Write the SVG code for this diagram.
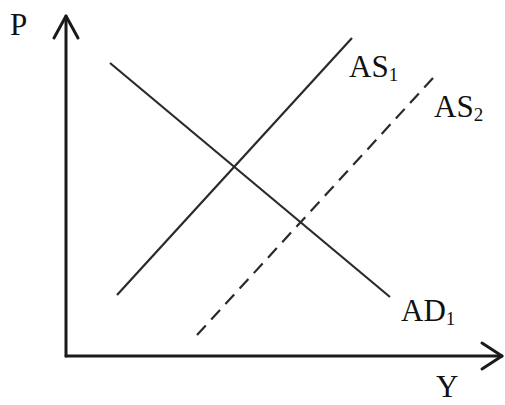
<svg xmlns="http://www.w3.org/2000/svg" width="505" height="405" viewBox="0 0 505 405">
<style>
.ax{stroke:#1a1a1a;stroke-width:3;fill:none;stroke-linecap:round;stroke-linejoin:round}
.cv{stroke:#2a2a2a;stroke-width:2.2;fill:none}
.dash{stroke-dasharray:13 8}
text{font-family:"Liberation Serif","Times New Roman",serif;fill:#111}
.lb{font-size:31px}
.sb{font-size:19px}
</style>
<rect width="505" height="405" fill="#fff"/>
<g id="axes">
<path class="ax" d="M66,356 L66,16"/>
<path class="ax" d="M54,38 L66,16 L78,38"/>
<path class="ax" d="M66,356 L502,356"/>
<path class="ax" d="M482,343 L502,356 L482,369"/>
</g>
<g id="connectors">
<line id="AD1" class="cv" x1="110" y1="63" x2="390" y2="297"/>
<line id="AS1" class="cv" x1="117" y1="295" x2="352" y2="38"/>
<line id="AS2" class="cv dash" x1="197" y1="335" x2="433" y2="78"/>
</g>
<g id="labels">
<text class="lb" x="10" y="35">P</text>
<text class="lb" x="436" y="397">Y</text>
<text class="lb" x="349" y="77">AS<tspan class="sb" dy="4">1</tspan></text>
<text class="lb" x="434" y="117">AS<tspan class="sb" dy="4">2</tspan></text>
<text class="lb" x="401" y="321">AD<tspan class="sb" dy="4">1</tspan></text>
</g>
</svg>
